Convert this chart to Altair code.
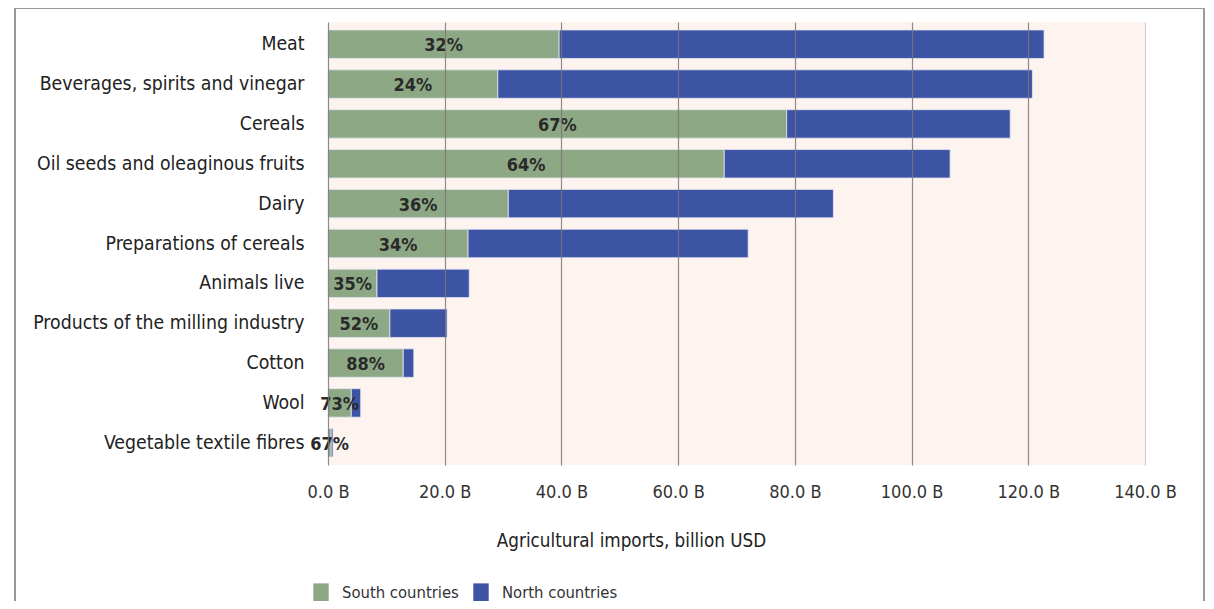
import altair as alt
import pandas as pd

categories = [
    "Meat",
    "Beverages, spirits and vinegar",
    "Cereals",
    "Oil seeds and oleaginous fruits",
    "Dairy",
    "Preparations of cereals",
    "Animals live",
    "Products of the milling industry",
    "Cotton",
    "Wool",
    "Vegetable textile fibres",
]
south_values = [39.6, 29.1, 78.6, 67.9, 30.9, 24.0, 8.4, 10.6, 12.9, 4.0, 0.55]
north_values = [83.1, 91.6, 38.3, 38.7, 55.7, 48.0, 15.8, 9.8, 1.8, 1.6, 0.3]
pct_labels = ["32%", "24%", "67%", "64%", "36%", "34%", "35%", "52%", "88%", "73%", "67%"]
groups = ["South countries", "North countries"]
colors = ["#8DA885", "#3D54A4"]
x_ticks = [0, 20, 40, 60, 80, 100, 120, 140]

FONT = "'DejaVu Sans Condensed', 'Lato', sans-serif"

rows = []
for c, s, n in zip(categories, south_values, north_values):
    rows.append({"category": c, "group": groups[0], "value": s, "ord": 0})
    rows.append({"category": c, "group": groups[1], "value": n, "ord": 1})
df = pd.DataFrame(rows)

lab = pd.DataFrame({"category": categories, "south": south_values, "pct": pct_labels})
lab["mid"] = lab["south"] / 2

y_enc = alt.Y(
    "category:N",
    sort=categories,
    scale=alt.Scale(paddingInner=0.286, paddingOuter=0.2),
    axis=alt.Axis(
        title=None,
        labelFont=FONT,
        labelFontSize=19.3,
        labelColor="#222222",
        labelPadding=24,
        labelExpr="(datum.label == 'Meat' || datum.label == 'Dairy') ? datum.label + '\u00a0' : datum.label",
        ticks=False,
        domain=False,
        grid=False,
        labelLimit=400,
    ),
)

bars = (
    alt.Chart(df)
    .mark_bar(stroke="#e4e4f4", strokeWidth=0.8)
    .encode(
        y=y_enc,
        x=alt.X(
            "value:Q",
            stack="zero",
            scale=alt.Scale(domain=[0, 140], nice=False),
            axis=alt.Axis(
                values=x_ticks,
                labelExpr="format(datum.value, '.1f') + ' B'",
                labelFont=FONT,
                labelFontSize=18,
                labelColor="#333333",
                labelPadding=18,
                labelFlush=False,
                labelOverlap=False,
                ticks=False,
                domain=False,
                grid=True,
                gridColor={"condition": {"test": "datum.value == 140", "value": "#cfc8c4"}, "value": "#7f7777"},
                gridOpacity=0.85,
                gridWidth=1.2,
                title="Agricultural imports, billion USD",
                titleFont=FONT,
                titleFontSize=18.7,
                titleFontWeight="normal",
                titleColor="#222222",
                titleX=303,
                titleY=75,
                titleAlign="center",
                titleBaseline="middle",
                zindex=1,
            ),
        ),
        color=alt.Color(
            "group:N",
            scale=alt.Scale(domain=groups, range=colors),
            legend=alt.Legend(
                title=None,
                orient="none",
                direction="horizontal",
                legendX=-17,
                legendY=561,
                symbolType="M-0.79,-1H0.79V1H-0.79Z",
                symbolSize=380,
                symbolStrokeWidth=0,
                labelFont=FONT,
                labelFontSize=16.5,
                labelColor="#333333",
                labelOffset=11,
                columnPadding=12,
            ),
        ),
        order=alt.Order("ord:Q"),
    )
)

texts = (
    alt.Chart(lab)
    .mark_text(font=FONT, fontSize=18, fontWeight="bold", color="#2a2a2a", baseline="middle", align="center", dy=2)
    .encode(
        y=alt.Y("category:N", sort=categories),
        x=alt.X("mid:Q"),
        text="pct:N",
    )
)

frame = (
    alt.Chart(pd.DataFrame({"a": [0]}))
    .mark_rect(fill=None, stroke="#9a9a9a", strokeWidth=2)
    .encode(x=alt.value(-313), x2=alt.value(876), y=alt.value(-14), y2=alt.value(620))
)

chart = (
    alt.layer(frame, bars, texts)
    .properties(
        width=817,
        height=443,
        autosize=alt.AutoSizeParams(type="none"),
        padding={"left": 320, "top": 14, "right": 61, "bottom": 136},
        background="white",
    )
    .configure_view(fill="#FDF4EF", stroke=None)
)

chart.save("out.html", embed_options={"renderer": "svg", "actions": False})
